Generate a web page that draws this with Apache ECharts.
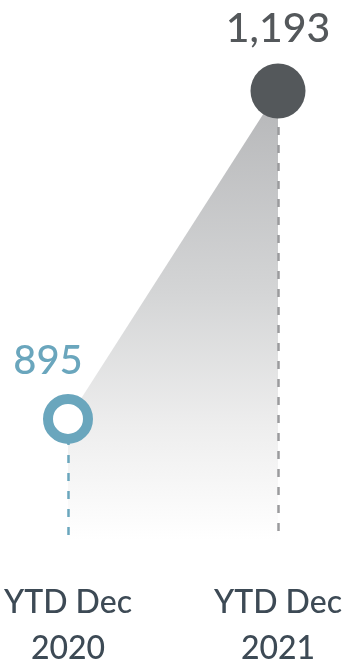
<!DOCTYPE html>
<html>
<head>
<meta charset="utf-8">
<script src="https://cdn.jsdelivr.net/npm/echarts@6/dist/echarts.min.js"></script>
<style>
html,body{margin:0;padding:0;background:#fff;}
#chart{width:342px;height:662px;}
</style>
</head>
<body>
<div id="chart"></div>
<script>
const categories = ['YTD Dec\n2020', 'YTD Dec\n2021'];
const values = [895, 1193];
const valueLabels = ['895', '1,193'];
const axisMin = 785;

const chart = echarts.init(document.getElementById('chart'));
const blue = '#6aa6bd';
const dark = '#54585b';
const FONT = 'Lato';

chart.setOption({
  animation: false,
  grid: { left: 68, right: 64, top: 91, bottom: 122, outerBoundsMode: 'none', containLabel: false },
  xAxis: {
    type: 'category',
    data: categories,
    boundaryGap: false,
    axisLine: { show: false },
    axisTick: { show: false },
    splitLine: { show: false },
    axisLabel: {
      fontFamily: FONT, fontSize: 32, fontWeight: 500, lineHeight: 46, color: '#3d4a55',
      margin: 40, align: 'center'
    }
  },
  yAxis: {
    type: 'value', min: axisMin, max: values[1], show: false,
    splitLine: { show: false }
  },
  series: [
    {
      type: 'line',
      data: values,
      symbol: 'none',
      lineStyle: { width: 0 },
      areaStyle: {
        opacity: 1,
        color: new echarts.graphic.LinearGradient(0, 0, 0, 1, [
          { offset: 0, color: '#b5b6b8' },
          { offset: 0.45, color: '#d4d5d6' },
          { offset: 0.75, color: '#eeeeee' },
          { offset: 1, color: '#ffffff' }
        ])
      },
      z: 1,
      markLine: {
        silent: true,
        symbol: 'none',
        label: { show: false },
        data: [
          [{ coord: [0, values[0]], lineStyle: { color: blue, type: [8, 10], width: 2.5 } }, { coord: [0, axisMin] }],
          [{ coord: [1, values[1]], lineStyle: { color: '#9a9b9d', type: [8, 10], width: 2.5 } }, { coord: [1, axisMin] }]
        ]
      }
    },
    {
      type: 'scatter',
      z: 5,
      data: [
        {
          value: [0, values[0]], symbol: 'circle', symbolSize: 40,
          itemStyle: { color: '#ffffff', borderColor: blue, borderWidth: 10, opacity: 1 },
          label: {
            show: true, position: 'top', distance: 13, offset: [-20, 0],
            formatter: valueLabels[0], fontFamily: FONT, fontSize: 40, fontWeight: 500, color: blue
          }
        },
        {
          value: [1, values[1]], symbol: 'circle', symbolSize: 55,
          itemStyle: { color: dark, opacity: 1 },
          label: {
            show: true, position: 'top', distance: 14,
            formatter: valueLabels[1], fontFamily: FONT, fontSize: 41, fontWeight: 500, color: dark
          }
        }
      ]
    }
  ]
});
</script>
</body>
</html>
